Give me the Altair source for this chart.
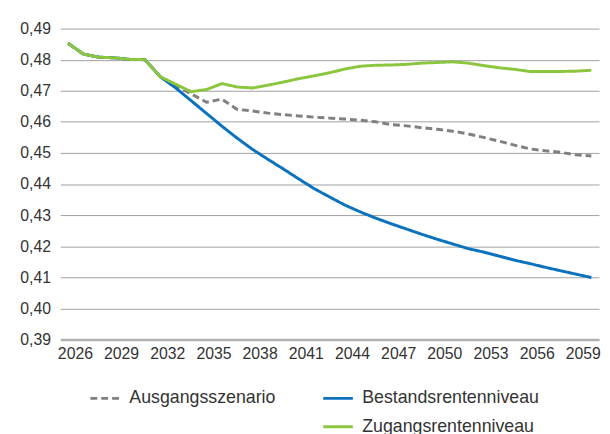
import altair as alt
import pandas as pd

# ---- data ----
years = list(range(2026, 2061))

ausgangsszenario = [
    0.4853, 0.4818, 0.4808, 0.4806, 0.4801, 0.4800, 0.4745, 0.4716, 0.4690, 0.4663,
    0.4673, 0.4640, 0.4635, 0.4628, 0.4623, 0.4619, 0.4615, 0.4612, 0.4609, 0.4605,
    0.4600, 0.4591, 0.4587, 0.4581, 0.4576, 0.4570, 0.4561, 0.4550, 0.4538, 0.4525,
    0.4513, 0.4507, 0.4502, 0.4494, 0.4490,
]
bestandsrentenniveau = [
    0.4853, 0.4818, 0.4808, 0.4806, 0.4801, 0.4800, 0.4745, 0.4709, 0.4668, 0.4627,
    0.4586, 0.4547, 0.4511, 0.4479, 0.4448, 0.4416, 0.4385, 0.4358, 0.4332, 0.4310,
    0.4290, 0.4272, 0.4255, 0.4238, 0.4222, 0.4207, 0.4192, 0.4181, 0.4168, 0.4155,
    0.4144, 0.4132, 0.4121, 0.4110, 0.4099,
]
zugangsrentenniveau = [
    0.4853, 0.4818, 0.4808, 0.4806, 0.4801, 0.4800, 0.4745, 0.4721, 0.4697, 0.4704,
    0.4723, 0.4712, 0.4709, 0.4718, 0.4728, 0.4739, 0.4748, 0.4758, 0.4770, 0.4779,
    0.4782, 0.4783, 0.4785, 0.4789, 0.4791, 0.4793, 0.4789, 0.4781, 0.4774, 0.4769,
    0.4762, 0.4762, 0.4762, 0.4763, 0.4766,
]

series_names = ["Ausgangsszenario", "Bestandsrentenniveau", "Zugangsrentenniveau"]
x_tick_labels = [2026, 2029, 2032, 2035, 2038, 2041, 2044, 2047, 2050, 2053, 2056, 2059]
y_tick_labels = [0.39, 0.40, 0.41, 0.42, 0.43, 0.44, 0.45, 0.46, 0.47, 0.48, 0.49]

# legend entries (a blank entry puts Zugangsrentenniveau under Bestandsrentenniveau)
legend_domain = ["Ausgangsszenario", "Bestandsrentenniveau", " ", "Zugangsrentenniveau"]
legend_colors = ["#808080", "#0b72bd", "rgba(0,0,0,0)", "#8cc63f"]
legend_dashes = [[7, 4], [1, 0], [1, 0], [1, 0]]

rows = []
for name, vals in zip(series_names, [ausgangsszenario, bestandsrentenniveau, zugangsrentenniveau]):
    for yr, v in zip(years, vals):
        rows.append({"Jahr": yr, "Wert": v, "Reihe": name})
df = pd.DataFrame(rows)

FONT = "Liberation Sans"
TXT = "#333333"

legend = alt.Legend(
    title=None, orient="none", legendX=29, legendY=358, direction="horizontal",
    columns=2, columnPadding=41, rowPadding=3, padding=0,
    symbolType="stroke", symbolSize=900, symbolStrokeWidth=3,
    labelFont=FONT, labelFontSize=18, labelColor=TXT, labelLimit=400, labelOffset=8,
)

chart = alt.Chart(df).mark_line(strokeWidth=3, strokeJoin="round").encode(
    x=alt.X(
        "Jahr:Q",
        scale=alt.Scale(domain=[2025.5, 2060.5], nice=False, zero=False),
        axis=alt.Axis(
            values=x_tick_labels, format="d", title=None, grid=False, ticks=False,
            tickSize=0, labelPadding=6, labelOffset=7, labelFont=FONT, labelFontSize=16,
            labelColor=TXT, domainColor="#b0b0b0", domainWidth=2.5, labelFlush=False,
            labelOverlap=False,
        ),
    ),
    y=alt.Y(
        "Wert:Q",
        scale=alt.Scale(domain=[0.39, 0.49], nice=False, zero=False),
        axis=alt.Axis(
            values=y_tick_labels, title=None, domain=False, ticks=False, tickSize=0,
            labelPadding=10, labelFont=FONT, labelFontSize=16, labelColor=TXT,
            labelExpr="replace(format(datum.value, '.2f'), '.', ',')",
            gridColor="#a0a0a0", gridWidth=1, labelOverlap=False,
        ),
    ),
    color=alt.Color("Reihe:N", scale=alt.Scale(domain=legend_domain, range=legend_colors), legend=legend),
    strokeDash=alt.StrokeDash("Reihe:N", scale=alt.Scale(domain=legend_domain, range=legend_dashes), legend=legend),
).properties(
    width=546, height=315,
    autosize=alt.AutoSizeParams(type="none"),
    padding={"left": 53, "top": 18, "right": 3, "bottom": 93},
    background="white",
).configure_view(stroke=None)

chart.save("out.html", embed_options={"renderer": "svg", "actions": False})
